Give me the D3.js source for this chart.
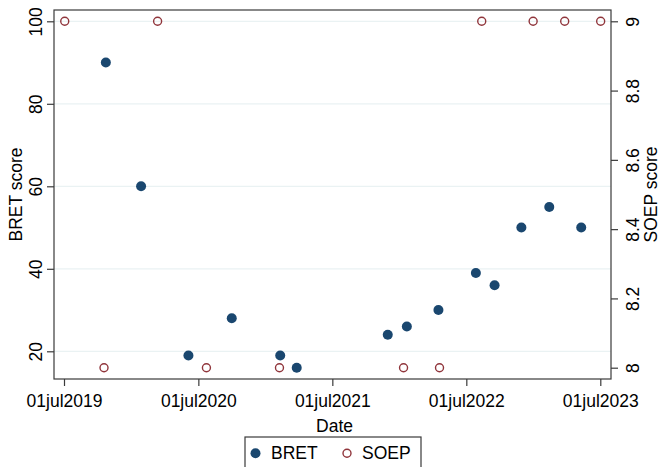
<!DOCTYPE html>
<html>
<head>
<meta charset="utf-8">
<script src="https://cdn.jsdelivr.net/npm/d3@7"></script>
<style>
  body { margin: 0; background: #fff; }
  svg { display: block; }
  text { font-family: "Liberation Sans", Arial, sans-serif; fill: #000; }
</style>
</head>
<body>
<div id="chart"></div>
<script>
// data
var bretDates = ["2019-10-23", "2020-01-27", "2020-06-04", "2020-09-30", "2021-02-09", "2021-03-26",
                 "2021-11-29", "2022-01-20", "2022-04-16", "2022-07-27", "2022-09-16", "2022-11-28",
                 "2023-02-12", "2023-05-10"];
var bretValues = [90, 60, 19, 28, 19, 16, 24, 26, 30, 39, 36, 50, 55, 50];

var soepDates = ["2019-07-03", "2019-10-18", "2020-03-12", "2020-07-23", "2021-02-07", "2022-01-11",
                 "2022-04-19", "2022-08-12", "2022-12-30", "2023-03-26", "2023-07-02"];
var soepValues = [9, 8, 9, 8, 8, 8, 8, 9, 9, 9, 9];

var xTicks = ["2019-07-01", "2020-07-01", "2021-07-01", "2022-07-01", "2023-07-01"];
var xTickLabels = ["01jul2019", "01jul2020", "01jul2021", "01jul2022", "01jul2023"];
var leftTicks = [20, 40, 60, 80, 100];
var rightTicks = [8, 8.2, 8.4, 8.6, 8.8, 9];

var width = 660, height = 467;
var plot = {left: 54, right: 611, top: 10, bottom: 379};
var fontSize = 17.5;

var parse = d3.utcParse("%Y-%m-%d");

var svg = d3.select("#chart").append("svg")
    .attr("width", width)
    .attr("height", height);

var x = d3.scaleUtc()
    .domain([parse(xTicks[0]), parse(xTicks[xTicks.length - 1])])
    .range([64, 600.3]);

var yLeft = d3.scaleLinear()
    .domain([20, 100])
    .range([351.3, 21.3]);

var yRight = d3.scaleLinear()
    .domain([8, 9])
    .range([367.7, 21.3]);

// grid lines from the left axis
svg.append("g")
    .selectAll("line")
    .data(leftTicks)
    .enter()
    .append("line")
    .attr("x1", plot.left)
    .attr("x2", plot.right)
    .attr("y1", function (d) { return yLeft(d); })
    .attr("y2", function (d) { return yLeft(d); })
    .attr("stroke", "#eaf2f3")
    .attr("stroke-width", 1.2);

// plot frame
svg.append("rect")
    .attr("x", plot.left)
    .attr("y", plot.top)
    .attr("width", plot.right - plot.left)
    .attr("height", plot.bottom - plot.top)
    .attr("fill", "none")
    .attr("stroke", "#3a3a3a")
    .attr("stroke-width", 1.2);

// left axis, labels rotated
var leftAxis = svg.append("g")
    .attr("transform", `translate(${plot.left},0)`)
    .call(d3.axisLeft(yLeft).tickValues(leftTicks).tickSize(7).tickFormat(d3.format("d")));
leftAxis.select(".domain").remove();
leftAxis.selectAll("line").attr("stroke", "#3a3a3a").attr("stroke-width", 1.2);
leftAxis.selectAll("text")
    .attr("font-size", fontSize)
    .attr("text-anchor", "middle")
    .attr("x", 0)
    .attr("y", 0)
    .attr("dy", 0)
    .attr("transform", "translate(-12.5,0) rotate(-90)");

// right axis
var rightAxis = svg.append("g")
    .attr("transform", `translate(${plot.right},0)`)
    .call(d3.axisRight(yRight).tickValues(rightTicks).tickSize(7)
        .tickFormat(function (d) { return String(+d.toFixed(1)); }));
rightAxis.select(".domain").remove();
rightAxis.selectAll("line").attr("stroke", "#3a3a3a").attr("stroke-width", 1.2);
rightAxis.selectAll("text")
    .attr("font-size", fontSize)
    .attr("text-anchor", "middle")
    .attr("x", 0)
    .attr("y", 0)
    .attr("dy", 0)
    .attr("transform", "translate(28,0) rotate(-90)");

// bottom axis
var bottomAxis = svg.append("g")
    .attr("transform", `translate(0,${plot.bottom})`)
    .call(d3.axisBottom(x).tickValues(xTicks.map(parse)).tickSize(7)
        .tickFormat(function (d, i) { return xTickLabels[i]; }));
bottomAxis.select(".domain").remove();
bottomAxis.selectAll("line").attr("stroke", "#3a3a3a").attr("stroke-width", 1.2);
bottomAxis.selectAll("text")
    .attr("font-size", fontSize)
    .attr("dy", 0)
    .attr("y", 27.5);

// axis titles
svg.append("text")
    .attr("transform", `translate(22,${(plot.top + plot.bottom) / 2}) rotate(-90)`)
    .attr("text-anchor", "middle")
    .attr("font-size", fontSize)
    .text("BRET score");

svg.append("text")
    .attr("transform", `translate(657,${(plot.top + plot.bottom) / 2}) rotate(-90)`)
    .attr("text-anchor", "middle")
    .attr("font-size", fontSize)
    .text("SOEP score");

svg.append("text")
    .attr("x", (plot.left + plot.right) / 2 + 2)
    .attr("y", 432)
    .attr("text-anchor", "middle")
    .attr("font-size", fontSize)
    .text("Date");

// SOEP hollow circles
svg.append("g")
    .selectAll("circle")
    .data(soepDates.map(function (d, i) { return {date: parse(d), value: soepValues[i]}; }))
    .enter()
    .append("circle")
    .attr("cx", function (d) { return x(d.date); })
    .attr("cy", function (d) { return yRight(d.value); })
    .attr("r", 4)
    .attr("fill", "none")
    .attr("stroke", "#90353b")
    .attr("stroke-width", 1.4);

// BRET filled circles
svg.append("g")
    .selectAll("circle")
    .data(bretDates.map(function (d, i) { return {date: parse(d), value: bretValues[i]}; }))
    .enter()
    .append("circle")
    .attr("cx", function (d) { return x(d.date); })
    .attr("cy", function (d) { return yLeft(d.value); })
    .attr("r", 5)
    .attr("fill", "#1a476f");

// legend
var legend = svg.append("g");
legend.append("rect")
    .attr("x", 245)
    .attr("y", 437)
    .attr("width", 176)
    .attr("height", 40)
    .attr("fill", "#fff")
    .attr("stroke", "#3a3a3a")
    .attr("stroke-width", 1.2);

legend.append("circle")
    .attr("cx", 255.5)
    .attr("cy", 453.3)
    .attr("r", 5)
    .attr("fill", "#1a476f");
legend.append("text")
    .attr("x", 271)
    .attr("y", 459)
    .attr("font-size", fontSize)
    .text("BRET");

legend.append("circle")
    .attr("cx", 347)
    .attr("cy", 453.3)
    .attr("r", 4)
    .attr("fill", "none")
    .attr("stroke", "#90353b")
    .attr("stroke-width", 1.4);
legend.append("text")
    .attr("x", 362)
    .attr("y", 459)
    .attr("font-size", fontSize)
    .text("SOEP");
</script>
</body>
</html>
